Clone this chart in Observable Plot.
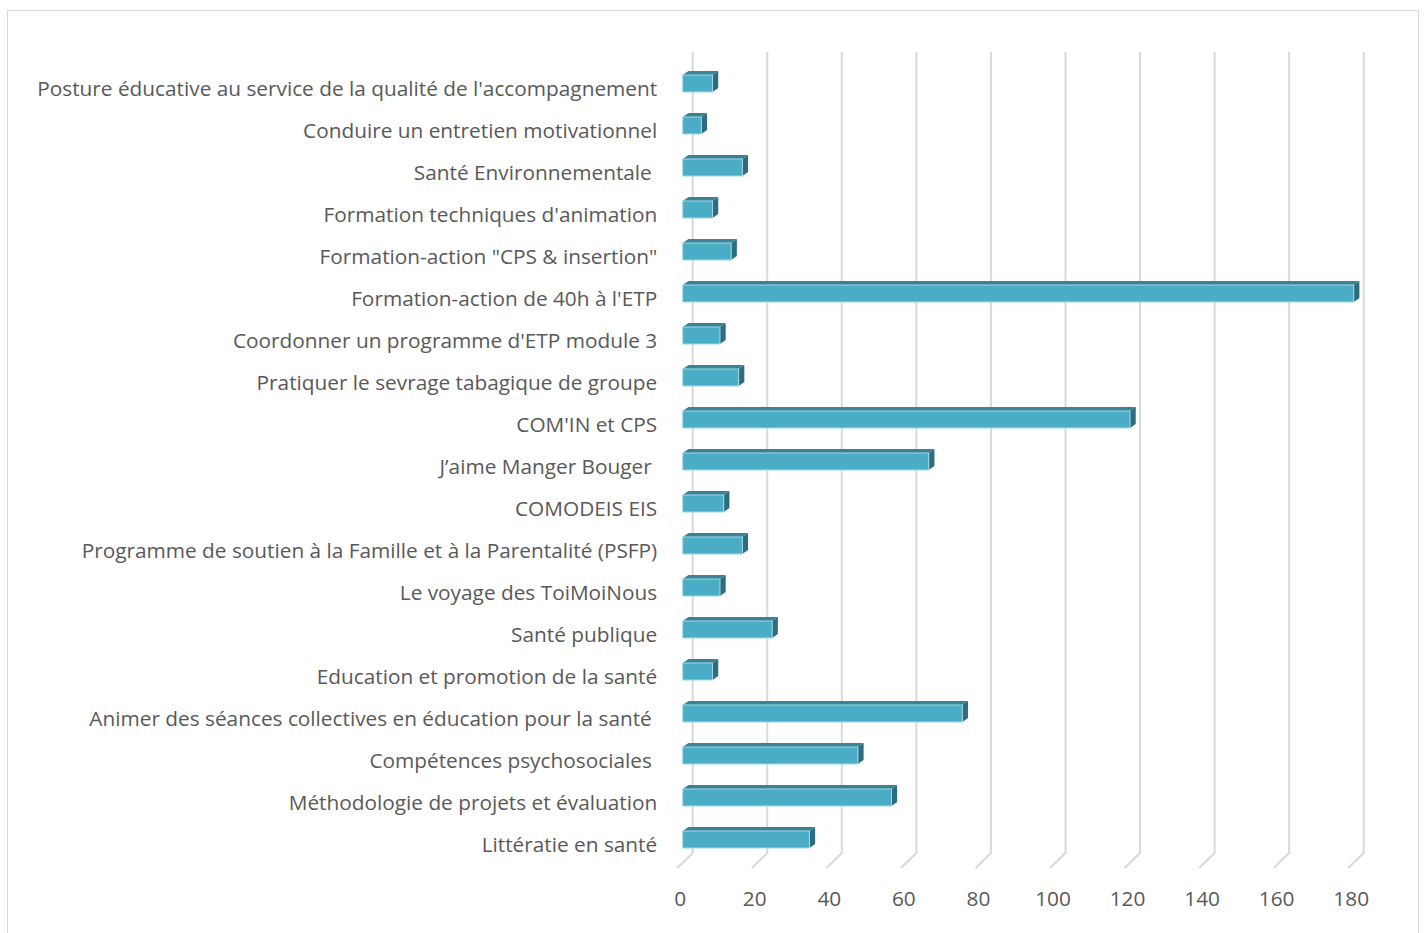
<!DOCTYPE html>
<html>
<head>
<meta charset="utf-8">
<script src="https://cdn.jsdelivr.net/npm/d3@7"></script>
<script src="https://cdn.jsdelivr.net/npm/@observablehq/plot@0.6"></script>
<style>
  html, body { margin: 0; padding: 0; background: #fff; width: 1427px; height: 933px; overflow: hidden; }
  #frame { position: absolute; left: 7px; top: 10px; width: 1412px; height: 960px; border: 1.5px solid #d9d9d9; box-sizing: border-box; }
  #chart { position: absolute; left: 0; top: 0; }
</style>
</head>
<body>
<div id="frame"></div>
<div id="chart"></div>
<script>
// ---- data (top to bottom as shown) ----
const labels = [
  "Posture éducative au service de la qualité de l'accompagnement",
  "Conduire un entretien motivationnel",
  "Santé Environnementale ",
  "Formation techniques d'animation",
  "Formation-action \"CPS & insertion\"",
  "Formation-action de 40h à l'ETP",
  "Coordonner un programme d'ETP module 3",
  "Pratiquer le sevrage tabagique de groupe",
  "COM'IN et CPS",
  "J’aime Manger Bouger ",
  "COMODEIS EIS",
  "Programme de soutien à la Famille et à la Parentalité (PSFP)",
  "Le voyage des ToiMoiNous",
  "Santé publique",
  "Education et promotion de la santé",
  "Animer des séances collectives en éducation pour la santé ",
  "Compétences psychosociales ",
  "Méthodologie de projets et évaluation",
  "Littératie en santé"
];
const values = [8, 5, 16, 8, 13, 180, 10, 15, 120, 66, 11, 16, 10, 24, 8, 75, 47, 56, 34];
const xTicks = [0, 20, 40, 60, 80, 100, 120, 140, 160, 180];

const data = labels.map((label, i) => ({label, value: values[i]}));

// ---- styles ----
const FRONT = "#4bacc6", TOP = "#3a8397", SIDE = "#2e6d7f", EDGE = "#a3d8e6";
const GRID = "#d9d9d9", TEXT = "#595959";
const DX = 5.7, DY = -4;           // bar depth offset
const WALL = 10;                   // back wall offset of gridlines
const FLOOR_TOP = 853, FLOOR_BOTTOM = 868, GRID_TOP = 52;

// Back-wall gridlines and floor diagonals, positioned through the x scale
function gridMark(index, scales) {
  const x = scales.x;
  const g = d3.create("svg:g").attr("stroke", GRID).attr("stroke-width", 2).attr("fill", "none");
  for (const t of xTicks) {
    const xb = x(t) + WALL;
    g.append("path").attr("d", `M${xb},${GRID_TOP}V${FLOOR_TOP}L${xb - 15.4},${FLOOR_BOTTOM}`);
  }
  return g.node();
}

// Top and side faces of the 3D bars, positioned through the x and y scales
function facesMark(index, scales) {
  const x = scales.x, y = scales.y;
  const bw = y.bandwidth();
  const g = d3.create("svg:g");
  for (const d of data) {
    const x0 = x(0), x1 = x(d.value), yt = y(d.label), yb = yt + bw;
    g.append("path").attr("fill", TOP)
      .attr("d", `M${x0},${yt}L${x1},${yt}L${x1 + DX},${yt + DY}L${x0 + DX},${yt + DY}Z`);
    g.append("path").attr("fill", SIDE)
      .attr("d", `M${x1},${yt}L${x1 + DX},${yt + DY}L${x1 + DX},${yb + DY}L${x1},${yb}Z`);
  }
  return g.node();
}

const W = 1427, H = 933;
const x0px = 682.7, x180px = 1353.7;
const chart = Plot.plot({
  width: W,
  height: H,
  marginLeft: x0px,
  marginRight: W - x180px,
  marginTop: 59.5,
  marginBottom: H - 863.7,
  style: {fontFamily: "'Open Sans', sans-serif", background: "transparent", overflow: "visible"},
  x: {domain: [0, 180]},
  y: {domain: labels, paddingInner: 0.6, paddingOuter: 0.3, align: 0.5},
  marks: [
    gridMark,
    facesMark,
    Plot.barX(data, {x: "value", y: "label", fill: FRONT, stroke: EDGE, strokeWidth: 1}),
    Plot.axisY({
      tickSize: 0, tickPadding: 26, fontSize: 20.8, color: TEXT, dy: 5.3,
      tickFormat: (d) => d.replace(/ $/, "\u00a0"), label: null
    }),
    Plot.axisX({
      ticks: xTicks, tickSize: 0, tickPadding: 27.5, fontSize: 20.8, color: TEXT, dx: -3, label: null
    })
  ]
});
document.getElementById("chart").appendChild(chart);
</script>
</body>
</html>
